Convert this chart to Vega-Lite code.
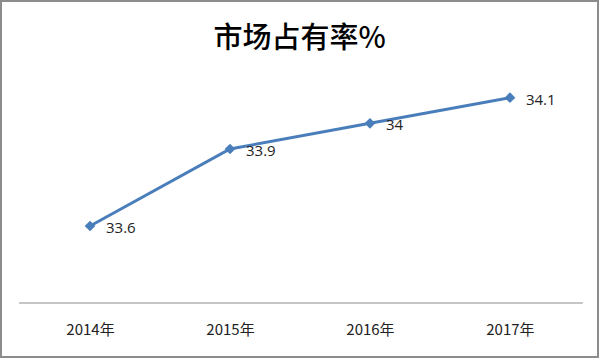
{
  "$schema": "https://vega.github.io/schema/vega-lite/v6.json",
  "width": 597,
  "height": 356,
  "padding": {"left": 1, "top": 1, "right": 2, "bottom": 2},
  "autosize": {"type": "none"},
  "background": "white",
  "config": {
    "view": {"stroke": "#8c8c8c", "strokeWidth": 2},
    "font": "Noto Sans CJK SC"
  },
  "title": {
    "text": "市场占有率%",
    "fontSize": 29,
    "fontWeight": 500,
    "font": "Noto Sans CJK SC",
    "color": "#000000",
    "anchor": "middle",
    "baseline": "bottom",
    "offset": -82
  },
  "datasets": {
    "share": [
      {"year": 2014, "value": 33.6, "label": "33.6"},
      {"year": 2015, "value": 33.9, "label": "33.9"},
      {"year": 2016, "value": 34.0, "label": "34"},
      {"year": 2017, "value": 34.1, "label": "34.1"}
    ],
    "baseline": [
      {"start": 2013.493, "end": 2017.521, "value": 33.3}
    ]
  },
  "layer": [
    {
      "data": {"name": "baseline"},
      "mark": {"type": "rule", "color": "#8c8c8c", "strokeWidth": 1},
      "encoding": {
        "x": {"field": "start", "type": "quantitative", "scale": {"domain": [2013.364, 2017.629], "nice": false, "zero": false},
          "axis": {"values": [2014, 2015, 2016, 2017], "labelExpr": "datum.value + '年'", "orient": "bottom", "offset": -54, "domain": false, "ticks": false, "grid": false, "labelPadding": 19, "labelFontSize": 15, "labelColor": "#222222", "labelFont": "Noto Sans CJK SC", "title": null}},
        "x2": {"field": "end"},
        "y": {"field": "value", "type": "quantitative", "scale": {"domain": [33.0897, 34.4765], "nice": false, "zero": false}, "axis": null}
      }
    },
    {
      "data": {"name": "share"},
      "mark": {"type": "line", "color": "#4a7ebb", "strokeWidth": 3},
      "encoding": {
        "x": {"field": "year", "type": "quantitative"},
        "y": {"field": "value", "type": "quantitative"}
      }
    },
    {
      "data": {"name": "share"},
      "mark": {"type": "point", "shape": "diamond", "filled": true, "color": "#4a7ebb", "size": 115, "opacity": 1},
      "encoding": {
        "x": {"field": "year", "type": "quantitative"},
        "y": {"field": "value", "type": "quantitative"}
      }
    },
    {
      "data": {"name": "share"},
      "mark": {"type": "text", "align": "left", "baseline": "middle", "dx": 16, "dy": 2, "fontSize": 15, "color": "#222222", "font": "Open Sans"},
      "encoding": {
        "x": {"field": "year", "type": "quantitative"},
        "y": {"field": "value", "type": "quantitative"},
        "text": {"field": "label"}
      }
    }
  ]
}
